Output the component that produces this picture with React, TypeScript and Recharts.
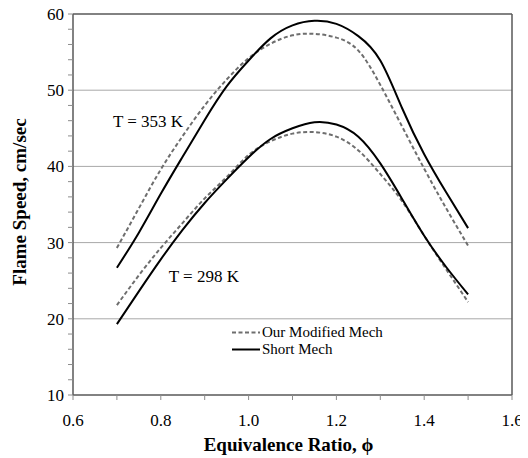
import React from 'react';
import { LineChart, Line, XAxis, YAxis, ReferenceLine, ReferenceDot } from 'recharts';

const phi = [0.7, 0.75, 0.8, 0.85, 0.9, 0.95, 1.0, 1.05, 1.1, 1.15, 1.2, 1.25, 1.3, 1.35, 1.4, 1.45, 1.5];
const modified353 = [29.3, 34.5, 39.6, 44.0, 48.0, 51.4, 54.2, 56.1, 57.2, 57.4, 56.9, 55.2, 50.7, 45.2, 39.7, 34.5, 29.6];
const short353 = [26.7, 31.3, 36.4, 41.3, 46.1, 50.5, 53.9, 56.8, 58.5, 59.1, 58.7, 57.1, 53.9, 47.6, 41.6, 36.6, 31.9];
const modified298 = [21.8, 25.7, 29.3, 32.6, 35.8, 38.6, 41.5, 43.3, 44.3, 44.5, 43.9, 42.1, 39.0, 35.4, 30.9, 26.5, 22.2];
const short298 = [19.3, 23.6, 27.8, 31.7, 35.2, 38.3, 41.2, 43.6, 45.0, 45.8, 45.5, 43.9, 40.4, 35.7, 30.9, 26.8, 23.2];

const xTicks = [0.6, 0.7, 0.8, 0.9, 1.0, 1.1, 1.2, 1.3, 1.4, 1.5, 1.6];
const xLabelTicks = [0.6, 0.8, 1.0, 1.2, 1.4, 1.6];
const yTicks = [10, 12, 14, 16, 18, 20, 22, 24, 26, 28, 30, 32, 34, 36, 38, 40, 42, 44, 46, 48, 50, 52, 54, 56, 58, 60];
const yLabelTicks = [10, 20, 30, 40, 50, 60];
const gridValues = [20, 30, 40, 50];

const xTitle = 'Equivalence Ratio, \u03d5';
const yTitle = 'Flame Speed, cm/sec';
const legendNames = ['Our Modified Mech', 'Short Mech'];
const annotations = [
  { x: 0.771, y: 45.96, text: 'T = 353 K' },
  { x: 0.898, y: 25.6, text: 'T = 298 K' },
];

const data = phi.map((p, i) => ({
  phi: p,
  m353: modified353[i],
  s353: short353[i],
  m298: modified298[i],
  s298: short298[i],
}));

const FONT = '"Liberation Serif", "Times New Roman", serif';
const AXIS = '#595959';
const TICK = '#8c8c8c';
const DASH_COLOR = '#6e6e6e';

const XTick = (props: any) => {
  const { x, y, payload } = props;
  const v = payload.value as number;
  if (!xLabelTicks.some((t) => Math.abs(t - v) < 1e-6)) return <g />;
  return (
    <text x={x} y={y} dy="0.71em" textAnchor="middle" fontFamily={FONT} fontSize={17} fill="#000">
      {v.toFixed(1)}
    </text>
  );
};

const YTick = (props: any) => {
  const { x, y, payload } = props;
  const v = payload.value as number;
  if (!yLabelTicks.includes(v)) return <g />;
  return (
    <text x={x} y={y} dy="0.355em" textAnchor="end" fontFamily={FONT} fontSize={17} fill="#000">
      {String(v)}
    </text>
  );
};

const XTitle = (props: any) => {
  const vb = props.viewBox || {};
  return (
    <text x={vb.x + vb.width / 2 - 4} y={442.5} textAnchor="middle" fontFamily={FONT} fontSize={19} fontWeight="bold" fill="#000">
      {xTitle}
    </text>
  );
};

const YTitle = () => {
  const cx = 17.5;
  const cy = 194;
  return (
    <text x={cx} y={cy} transform={`rotate(-90 ${cx} ${cy})`} textAnchor="middle" fontFamily={FONT} fontSize={19} fontWeight="bold" fill="#000">
      {yTitle}
    </text>
  );
};

export default function App() {
  return (
    <div style={{ position: 'relative', width: 520, height: 450, fontFamily: FONT }}>
      <LineChart width={520} height={450} data={data} margin={{ top: 6, right: 16, left: 0, bottom: 0 }}>
        {gridValues.map((g) => (
          <ReferenceLine key={g} y={g} stroke="#a8a8a8" strokeWidth={1} />
        ))}
        <ReferenceLine y={60} stroke={AXIS} strokeWidth={1.5} ifOverflow="visible" />
        <ReferenceLine x={1.6} stroke={AXIS} strokeWidth={1.5} ifOverflow="visible" />
        <XAxis
          dataKey="phi"
          type="number"
          domain={[0.6, 1.6]}
          ticks={xTicks}
          interval={0}
          height={63}
          tickSize={5}
          tickMargin={14}
          stroke={AXIS}
          strokeWidth={1.5}
          tickLine={{ stroke: TICK, strokeWidth: 1 }}
          tick={<XTick />}
          label={<XTitle />}
        />
        <YAxis
          type="number"
          domain={[10, 60]}
          ticks={yTicks}
          interval={0}
          width={65}
          tickSize={5}
          tickMargin={4}
          stroke={AXIS}
          strokeWidth={1.5}
          tickLine={{ stroke: TICK, strokeWidth: 1 }}
          tick={<YTick />}
          label={<YTitle />}
        />
        <YAxis
          yAxisId="right"
          orientation="right"
          type="number"
          domain={[10, 60]}
          width={0}
          tick={false}
          tickLine={false}
          stroke={AXIS}
          strokeWidth={1.5}
        />
        <Line type="natural" dataKey="m353" stroke={DASH_COLOR} strokeWidth={2} strokeDasharray="4 2.5" dot={false} isAnimationActive={false} />
        <Line type="natural" dataKey="s353" stroke="#000" strokeWidth={2} dot={false} isAnimationActive={false} />
        <Line type="natural" dataKey="m298" stroke={DASH_COLOR} strokeWidth={2} strokeDasharray="4 2.5" dot={false} isAnimationActive={false} />
        <Line type="natural" dataKey="s298" stroke="#000" strokeWidth={2} dot={false} isAnimationActive={false} />
        {annotations.map((a) => (
          <ReferenceDot
            key={a.text}
            x={a.x}
            y={a.y}
            r={0}
            fill="none"
            stroke="none"
            label={{ value: a.text, position: 'center', fill: '#000', fontSize: 17, fontFamily: FONT }}
          />
        ))}
      </LineChart>
      <div
        style={{
          position: 'absolute',
          left: 224,
          top: 315.5,
          fontFamily: FONT,
          fontSize: 15,
          lineHeight: '17px',
          color: '#000',
        }}
      >
        {legendNames.map((name, i) => (
          <div key={name} style={{ display: 'flex', alignItems: 'center', height: 17, whiteSpace: 'nowrap' }}>
            <svg width={29} height={17} style={{ display: 'block' }}>
              <line
                x1={0}
                y1={8.5}
                x2={28}
                y2={8.5}
                stroke={i === 0 ? DASH_COLOR : '#000'}
                strokeWidth={2}
                strokeDasharray={i === 0 ? '4 2.5' : undefined}
              />
            </svg>
            <span style={{ marginLeft: 1 }}>{name}</span>
          </div>
        ))}
      </div>
    </div>
  );
}
